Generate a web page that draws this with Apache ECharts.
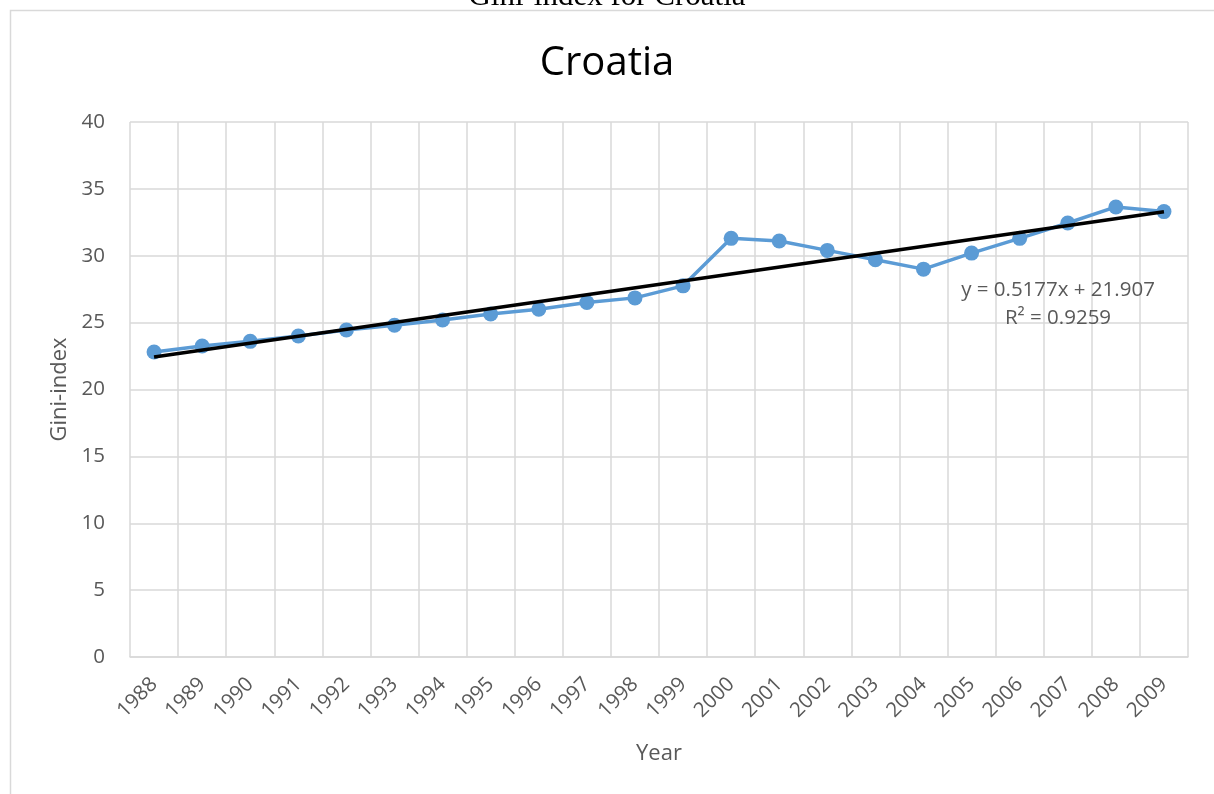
<!DOCTYPE html>
<html>
<head>
<meta charset="utf-8">
<script src="https://cdn.jsdelivr.net/npm/echarts@6/dist/echarts.min.js"></script>
<style>
  html, body { margin: 0; padding: 0; background: #ffffff; }
  #chart { width: 1214px; height: 794px; }
</style>
</head>
<body>
<div id="chart"></div>
<script>
// Gini-index for Croatia, 1988–2009
const years = ['1988','1989','1990','1991','1992','1993','1994','1995','1996','1997','1998',
               '1999','2000','2001','2002','2003','2004','2005','2006','2007','2008','2009'];
const giniValues = [22.8, 23.25, 23.6, 24.0, 24.45, 24.8, 25.2, 25.65, 26.0, 26.5, 26.85,
                    27.75, 31.3, 31.1, 30.4, 29.7, 29.0, 30.2, 31.3, 32.45, 33.65, 33.3];
const yTicks = [0, 5, 10, 15, 20, 25, 30, 35, 40];

// Linear trend as stated on the chart: y = slope * x + intercept (x = 1..n)
const trendSlope = 0.5177;
const trendIntercept = 21.907;
const trendLabel = 'y = 0.5177x + 21.907\nR² = 0.9259';

const n = years.length;
const trendData = [
  [0, trendSlope * 1 + trendIntercept],
  [n - 1, trendSlope * n + trendIntercept]
];

const gray = '#595959';
const gridGray = '#d9d9d9';
const font = '"Open Sans", "Noto Sans", sans-serif';

const chart = echarts.init(document.getElementById('chart'), null, { renderer: 'canvas' });
chart.setOption({
  animation: false,
  backgroundColor: '#ffffff',
  graphic: [
    {
      type: 'rect', z: -10, silent: true,
      shape: { x: 10.5, y: 10.5, width: 1230, height: 820 },
      style: { fill: '#ffffff', stroke: gridGray, lineWidth: 1.5 }
    },
    {
      type: 'text', left: 'center', top: -19,
      style: { text: 'Gini-index for Croatia', font: '31px "Liberation Serif", serif', fill: '#000000' }
    },
    {
      type: 'text', x: 1058, y: 304, z: 10,
      style: { text: trendLabel, font: '20.5px ' + font, fill: gray, align: 'center', verticalAlign: 'middle', lineHeight: 28 }
    }
  ],
  title: {
    text: 'Croatia',
    left: 'center',
    top: 39,
    textStyle: { fontFamily: font, fontSize: 40, fontWeight: 'normal', color: '#000000' }
  },
  grid: { left: 130, right: 26, top: 122, bottom: 137, containLabel: false },
  xAxis: {
    type: 'category',
    data: years,
    boundaryGap: true,
    name: 'Year',
    nameLocation: 'middle',
    nameGap: 86,
    nameTextStyle: { fontFamily: font, fontSize: 22, color: gray },
    axisLine: { show: true, lineStyle: { color: gridGray, width: 1.5 } },
    axisTick: { show: false },
    axisLabel: { interval: 0, rotate: 45, margin: 24, fontFamily: font, fontSize: 20.5, color: gray },
    splitLine: { show: true, interval: 0, lineStyle: { color: gridGray, width: 1.5 } }
  },
  yAxis: {
    type: 'value',
    min: yTicks[0],
    max: yTicks[yTicks.length - 1],
    interval: 5,
    name: 'Gini-index',
    nameLocation: 'middle',
    nameGap: 58,
    nameRotate: 90,
    nameTextStyle: { fontFamily: font, fontSize: 22, color: gray },
    axisLine: { show: false },
    axisTick: { show: false },
    axisLabel: { margin: 25, fontFamily: font, fontSize: 20.5, color: gray },
    splitLine: { show: true, lineStyle: { color: gridGray, width: 1.5 } }
  },
  series: [
    {
      name: 'Gini-index',
      type: 'line',
      data: giniValues,
      symbol: 'circle',
      symbolSize: 15,
      lineStyle: { color: '#5b9bd5', width: 3.5 },
      itemStyle: { color: '#5b9bd5' },
      z: 2
    },
    {
      name: 'Linear trend',
      type: 'line',
      data: trendData,
      symbol: 'none',
      lineStyle: { color: '#000000', width: 3.5 },
      z: 3
    }
  ]
});
</script>
</body>
</html>
